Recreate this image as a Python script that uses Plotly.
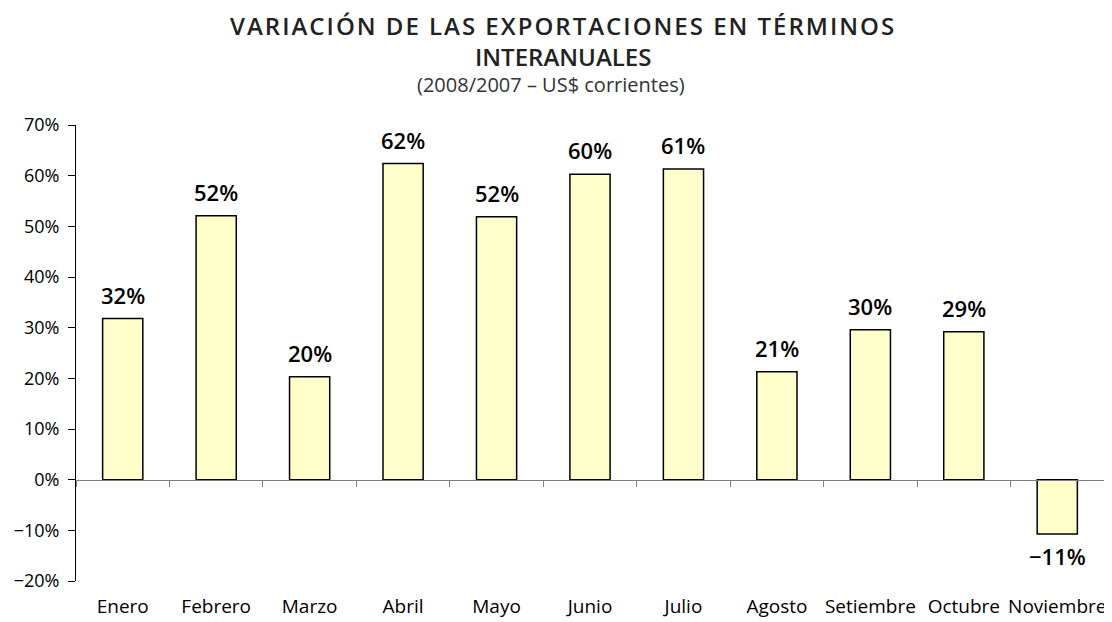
import plotly.graph_objects as go

categories = ["Enero", "Febrero", "Marzo", "Abril", "Mayo", "Junio", "Julio",
              "Agosto", "Setiembre", "Octubre", "Noviembre"]
values = [0.318, 0.521, 0.203, 0.624, 0.519, 0.603, 0.613, 0.213, 0.296, 0.292, -0.107]
y_ticks = [-0.2, -0.1, 0.0, 0.1, 0.2, 0.3, 0.4, 0.5, 0.6, 0.7]

FONT = "Open Sans"

fig = go.Figure()
fig.add_trace(go.Bar(
    x=categories, y=values,
    marker=dict(color="#FFFFCC", line=dict(color="#000000", width=1.5)),
    width=0.43, showlegend=False, hoverinfo="x+y",
))
# helper trace for the zero-line axis with boundary ticks
fig.add_trace(go.Scatter(
    x=categories, y=[0] * len(categories), xaxis="x2", yaxis="y",
    mode="markers", marker=dict(opacity=0), hoverinfo="skip", showlegend=False,
))

label_font = dict(family=FONT, size=22, color="#000000", weight=600)
value_labels = [
    dict(x=c, y=v, xref="x", yref="y",
         text=f"{round(v * 100):.0f}%".replace("-", "\u2212"),
         showarrow=False, font=label_font,
         yanchor="bottom" if v >= 0 else "top",
         yshift=7 if v >= 0 else -5)
    for c, v in zip(categories, values)
]

title_font = dict(family=FONT, size=24, color="#222222", weight=600)
titles = [
    dict(text="<span style='letter-spacing:2px'>VARIACIÓN DE LAS EXPORTACIONES EN TÉRMINOS</span>",
         x=0.4737, y=1.219, xref="paper", yref="paper", xanchor="center", yanchor="middle",
         showarrow=False, font=title_font),
    dict(text="INTERANUALES", x=0.4737, y=1.1513,
         xref="paper", yref="paper", xanchor="center", yanchor="middle",
         showarrow=False, font=title_font),
    dict(text="(2008/2007 – US$ corrientes)", x=0.462, y=1.0899,
         xref="paper", yref="paper", xanchor="center", yanchor="middle",
         showarrow=False, font=dict(family=FONT, size=20, color="#333333")),
]

fig.update_layout(
    width=1112, height=622,
    paper_bgcolor="white", plot_bgcolor="white",
    margin=dict(l=68, r=16, t=117, b=49, autoexpand=False),
    annotations=titles + value_labels,
    xaxis=dict(
        type="category", categoryorder="array", categoryarray=categories,
        range=[-0.5, 10.5], showline=False, ticks="", showgrid=False,
        tickfont=dict(family=FONT, size=19, color="#000000"),
        ticklabelstandoff=12, automargin=False,
    ),
    xaxis2=dict(
        type="category", categoryorder="array", categoryarray=categories,
        range=[-0.5, 10.5], overlaying="x", anchor="free", position=2 / 9,
        showline=True, linecolor="#808080", linewidth=1,
        ticks="outside", tickson="boundaries", ticklen=6, tickcolor="#808080",
        showticklabels=False, showgrid=False, automargin=False,
    ),
    yaxis=dict(
        range=[-0.2, 0.7], tickvals=y_ticks, tickformat=".0%",
        showline=True, linecolor="#000000", linewidth=1,
        ticks="outside", ticklen=7, tickcolor="#000000",
        ticklabelstandoff=5,
        showgrid=False, zeroline=False, automargin=False,
        tickfont=dict(family=FONT, size=18, color="#000000"),
    ),
)

fig.write_html("out.html")
